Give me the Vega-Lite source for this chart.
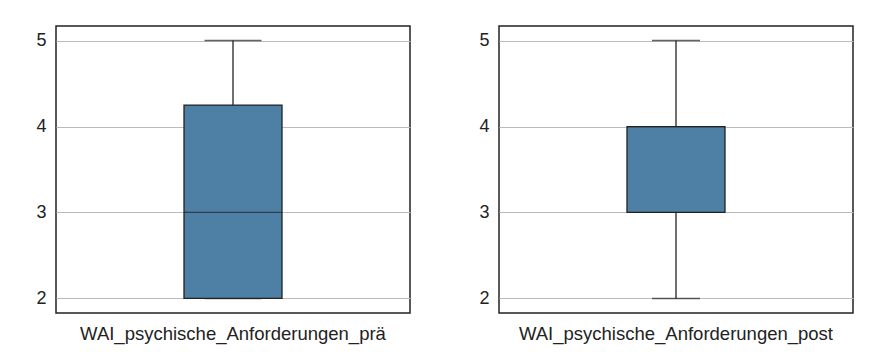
{
  "$schema": "https://vega.github.io/schema/vega-lite/v6.json",
  "padding": {"left": 5, "top": 25, "right": 5, "bottom": 5},
  "background": "white",
  "datasets": {
    "pre": [{"var": "WAI_psychische_Anforderungen_prä", "min": 2, "q1": 2, "median": 3, "q3": 4.25, "max": 5}],
    "post": [{"var": "WAI_psychische_Anforderungen_post", "min": 2, "q1": 3, "median": 4, "q3": 4, "max": 5}]
  },
  "spacing": 37,
  "hconcat": [
    {
      "width": 354, "height": 287,
      "data": {"name": "pre"},
      "encoding": {"x": {"field": "var", "type": "nominal", "title": null}},
      "layer": [
        {"mark": {"type": "rule", "color": "#222", "strokeWidth": 1.3}, "encoding": {"y": {"field": "min", "type": "quantitative"}, "y2": {"field": "max"}}},
        {"mark": {"type": "tick", "color": "#222", "size": 57, "thickness": 1.5}, "encoding": {"y": {"field": "max", "type": "quantitative"}}},
        {"mark": {"type": "tick", "color": "#222", "size": 57, "thickness": 1.5}, "encoding": {"y": {"field": "min", "type": "quantitative"}}},
        {"mark": {"type": "bar", "size": 98, "fill": "#4e7fa5", "stroke": "#222", "strokeWidth": 1.3}, "encoding": {"y": {"field": "q1", "type": "quantitative"}, "y2": {"field": "q3"}}},
        {"mark": {"type": "tick", "color": "#222", "size": 98, "thickness": 1.3}, "encoding": {"y": {"field": "median", "type": "quantitative", "scale": {"domain": [1.83, 5.17], "nice": false, "zero": false}, "axis": {"values": [2, 3, 4, 5], "format": "d", "title": null, "ticks": false, "domain": false, "minExtent": 50, "labelPadding": 10, "labelFontSize": 18, "labelColor": "#222", "gridColor": "#bbbbbb", "labelFont": "Liberation Sans"}}}}
      ]
    },
    {
      "width": 354, "height": 287,
      "data": {"name": "post"},
      "encoding": {"x": {"field": "var", "type": "nominal", "title": null}},
      "layer": [
        {"mark": {"type": "rule", "color": "#222", "strokeWidth": 1.3}, "encoding": {"y": {"field": "min", "type": "quantitative"}, "y2": {"field": "max"}}},
        {"mark": {"type": "tick", "color": "#222", "size": 48, "thickness": 1.5}, "encoding": {"y": {"field": "max", "type": "quantitative"}}},
        {"mark": {"type": "tick", "color": "#222", "size": 48, "thickness": 1.5}, "encoding": {"y": {"field": "min", "type": "quantitative"}}},
        {"mark": {"type": "bar", "size": 98, "fill": "#4e7fa5", "stroke": "#222", "strokeWidth": 1.3}, "encoding": {"y": {"field": "q1", "type": "quantitative"}, "y2": {"field": "q3"}}},
        {"mark": {"type": "tick", "color": "#222", "size": 98, "thickness": 1.3}, "encoding": {"y": {"field": "median", "type": "quantitative", "scale": {"domain": [1.83, 5.17], "nice": false, "zero": false}, "axis": {"values": [2, 3, 4, 5], "format": "d", "title": null, "ticks": false, "domain": false, "minExtent": 50, "labelPadding": 10, "labelFontSize": 18, "labelColor": "#222", "gridColor": "#bbbbbb", "labelFont": "Liberation Sans"}}}}
      ]
    }
  ],
  "config": {
    "view": {"stroke": "#222", "strokeWidth": 1.5},
    "axisX": {"ticks": false, "domain": false, "labelAngle": 0, "labelFontSize": 18.5, "labelColor": "#222", "labelPadding": 11, "labelFont": "Liberation Sans", "grid": false, "labelLimit": 0},
    "axisY": {"grid": true}
  }
}
